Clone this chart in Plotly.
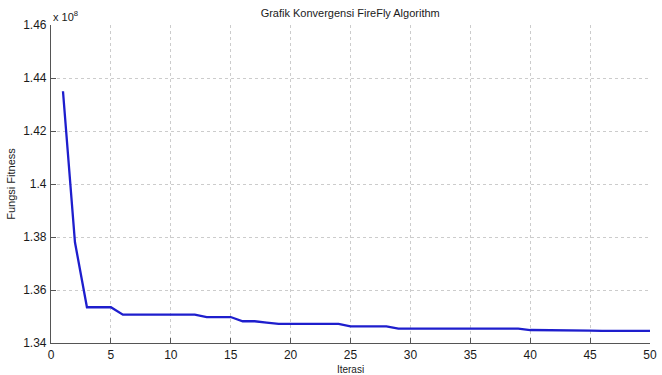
import plotly.graph_objects as go

# Iteration numbers and best fitness (x 10^8) per iteration
iterasi = list(range(1, 51))
fitness = [
    1.4350, 1.3780, 1.3535, 1.3535, 1.3535, 1.3507, 1.3507, 1.3507, 1.3507, 1.3507,
    1.3507, 1.3507, 1.3498, 1.3498, 1.3498, 1.3482, 1.3482, 1.3477, 1.3472, 1.3472,
    1.3472, 1.3472, 1.3472, 1.3472, 1.3463, 1.3463, 1.3463, 1.3463, 1.3454, 1.3454,
    1.3454, 1.3454, 1.3454, 1.3454, 1.3454, 1.3454, 1.3454, 1.3454, 1.3454, 1.3449,
    1.3449, 1.3449, 1.3449, 1.3447, 1.3447, 1.3446, 1.3446, 1.3446, 1.3446, 1.3446,
]
x_ticks = [0, 5, 10, 15, 20, 25, 30, 35, 40, 45, 50]
y_ticks = [1.34, 1.36, 1.38, 1.40, 1.42, 1.44, 1.46]
y_ticktext = ["1.34", "1.36", "1.38", "1.4", "1.42", "1.44", "1.46"]

FONT = "Liberation Sans, Arial, sans-serif"

fig = go.Figure()
fig.add_trace(go.Scatter(
    x=iterasi, y=fitness, mode="lines",
    line=dict(color="rgb(30,30,205)", width=2.3),
    showlegend=False, hoverinfo="x+y",
))

axis_common = dict(
    showline=True, linecolor="#555555", linewidth=1.2, mirror=False,
    ticks="inside", ticklen=5, tickcolor="#555555", tickwidth=1,
    showgrid=True, gridcolor="#cccccc", griddash="dot", gridwidth=1,
    zeroline=False, automargin=False,
    tickfont=dict(family=FONT, size=12, color="#1a1a1a"),
)

fig.update_layout(
    width=662, height=375,
    margin=dict(l=51, r=12, t=25, b=32),
    paper_bgcolor="white", plot_bgcolor="white",
    title=dict(text="Grafik Konvergensi FireFly Algorithm",
               x=0.529, xanchor="center", y=0.965, yanchor="middle",
               font=dict(family=FONT, size=11, color="#1a1a1a")),
    xaxis=dict(range=[0, 50], tickvals=x_ticks, ticklabeloverflow="allow",
               **axis_common,
               title=dict(text="Iterasi", standoff=6,
                          font=dict(family=FONT, size=10, color="#1a1a1a"))),
    yaxis=dict(range=[1.34, 1.46], tickvals=y_ticks, ticktext=y_ticktext,
               ticklabelstandoff=1, **axis_common,
               title=dict(text="Fungsi Fitness", standoff=5,
                          font=dict(family=FONT, size=11, color="#1a1a1a"))),
)

fig.add_annotation(
    text="x 10<sup>8</sup>", xref="paper", yref="paper", x=0, y=1.0,
    xanchor="left", yanchor="bottom", showarrow=False,
    font=dict(family=FONT, size=11, color="#1a1a1a"),
)

fig.write_html("out.html", config={"displayModeBar": False},
               post_script="document.body.style.margin='0';")
